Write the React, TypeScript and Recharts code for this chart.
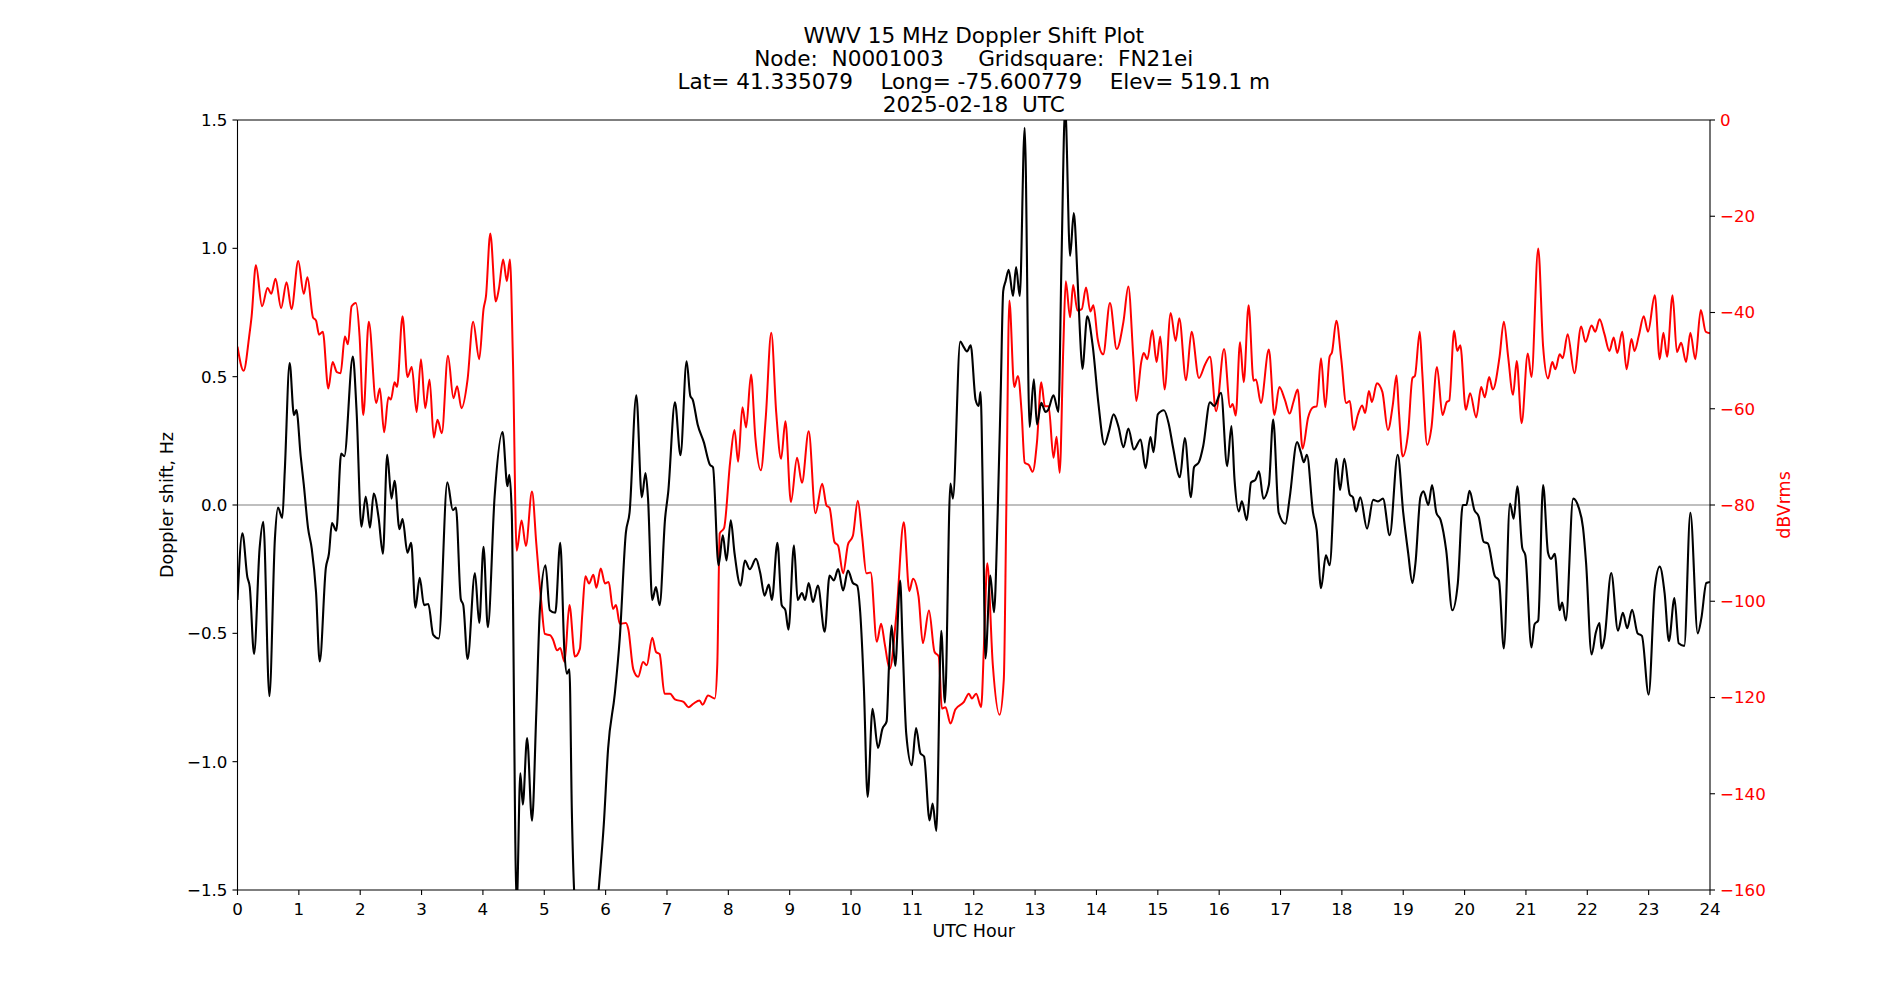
import React from 'react';
import { LineChart, Line, XAxis, YAxis, ReferenceLine } from 'recharts';

// ---- Doppler shift (black, left axis, Hz) ----
const blackHours = [
  0, 0.08, 0.16, 0.2, 0.27, 0.36, 0.42, 0.52, 0.61, 0.66, 0.73, 0.77, 0.85, 0.92, 0.96,
  1.03, 1.08, 1.15, 1.21, 1.28, 1.34, 1.44, 1.49, 1.54, 1.61, 1.69, 1.74, 1.88, 1.94,
  2.02, 2.09, 2.16, 2.22, 2.3, 2.37, 2.44, 2.51, 2.56, 2.64, 2.69, 2.77, 2.83, 2.9, 2.97,
  3.04, 3.11, 3.19, 3.28, 3.42, 3.51, 3.56, 3.64, 3.68, 3.75, 3.87, 3.94,
  4.01, 4.08, 4.19, 4.32, 4.4, 4.43, 4.47, 4.55, 4.61, 4.65, 4.72, 4.8, 4.87, 4.93,
  5.02, 5.09, 5.18, 5.26, 5.33, 5.37, 5.41, 5.45, 5.49, 5.7, 5.89, 5.97,
  6.04, 6.15, 6.23, 6.33, 6.39, 6.5, 6.59, 6.65, 6.69, 6.76, 6.82, 6.88, 6.97,
  7.02, 7.13, 7.22, 7.32, 7.38, 7.42, 7.5, 7.6, 7.7, 7.75, 7.84, 7.91, 7.97,
  8.04, 8.1, 8.2, 8.27, 8.35, 8.45, 8.52, 8.59, 8.66, 8.71, 8.8, 8.87, 8.93, 8.98,
  9.07, 9.13, 9.2, 9.25, 9.31, 9.38, 9.46, 9.57, 9.65, 9.72, 9.79, 9.87, 9.95,
  10.03, 10.1, 10.15, 10.21, 10.27, 10.35, 10.44, 10.51, 10.58, 10.62, 10.66, 10.72, 10.8, 10.84, 10.9, 10.99,
  11.06, 11.13, 11.19, 11.28, 11.33, 11.39, 11.47, 11.53, 11.62, 11.66, 11.78, 11.83, 11.89, 11.95,
  12.03, 12.08, 12.11, 12.15, 12.19, 12.27, 12.33, 12.39, 12.44, 12.48, 12.52, 12.57, 12.64, 12.69, 12.75, 12.83, 12.91, 12.98,
  13.03, 13.1, 13.17, 13.21, 13.3, 13.38, 13.43, 13.49, 13.57, 13.63, 13.69, 13.73, 13.77, 13.85, 13.94,
  14.03, 14.13, 14.2, 14.28, 14.36, 14.44, 14.52, 14.61, 14.72, 14.8, 14.88, 14.93,
  15.0, 15.1, 15.18, 15.25, 15.36, 15.44, 15.54, 15.59, 15.67, 15.74, 15.85, 15.92,
  16.03, 16.13, 16.2, 16.25, 16.32, 16.37, 16.45, 16.52, 16.59, 16.65, 16.72, 16.81, 16.88, 16.97,
  17.08, 17.15, 17.27, 17.33, 17.38, 17.43, 17.53, 17.59, 17.66, 17.74, 17.8, 17.91, 17.97,
  18.04, 18.13, 18.18, 18.23, 18.3, 18.41, 18.51, 18.59, 18.67, 18.78, 18.91,
  19.0, 19.08, 19.15, 19.2, 19.28, 19.33, 19.41, 19.47, 19.54, 19.61, 19.7, 19.8, 19.89, 19.97,
  20.03, 20.08, 20.16, 20.23, 20.31, 20.38, 20.49, 20.56, 20.64, 20.74, 20.8, 20.86, 20.94, 20.99,
  21.09, 21.14, 21.2, 21.28, 21.36, 21.41, 21.47, 21.55, 21.59, 21.65, 21.77, 21.86, 21.93, 21.98,
  22.07, 22.14, 22.2, 22.23, 22.28, 22.39, 22.5, 22.58, 22.65, 22.73, 22.82, 22.89,
  23.0, 23.1, 23.18, 23.26, 23.33, 23.42, 23.49, 23.58, 23.68, 23.8, 23.86, 23.94, 24.0,
];
const blackValues = [
  -0.37, -0.11, -0.28, -0.32, -0.58, -0.17, -0.065, -0.745, -0.13, -0.01, -0.05, 0.13, 0.553, 0.35, 0.37,
  0.19, 0.08, -0.09, -0.17, -0.34, -0.61, -0.245, -0.19, -0.07, -0.1, 0.2, 0.19, 0.578, 0.37,
  -0.085, 0.033, -0.088, 0.045, -0.05, -0.19, 0.196, 0.025, 0.094, -0.094, -0.055, -0.186, -0.147, -0.4, -0.284,
  -0.39, -0.386, -0.506, -0.52, 0.088, -0.02, -0.01, -0.367, -0.39, -0.6, -0.265, -0.46,
  -0.163, -0.476, 0.03, 0.284, 0.073, 0.118, -0.03, -1.56, -1.045, -1.167, -0.908, -1.23, -0.81, -0.4,
  -0.235, -0.41, -0.42, -0.147, -0.578, -0.657, -0.64, -1.2, -1.52, -2.0, -1.49, -1.245,
  -0.95, -0.735, -0.52, -0.108, -0.03, 0.427, 0.03, 0.124, 0.03, -0.37, -0.32, -0.39, -0.05,
  0.05, 0.4, 0.194, 0.56, 0.425, 0.41, 0.314, 0.245, 0.157, 0.147, -0.235, -0.118, -0.216,
  -0.06, -0.186, -0.314, -0.216, -0.25, -0.21, -0.265, -0.353, -0.31, -0.37, -0.147, -0.39, -0.41, -0.486,
  -0.157, -0.37, -0.343, -0.37, -0.304, -0.378, -0.314, -0.494, -0.275, -0.294, -0.25, -0.333, -0.255,
  -0.304, -0.314, -0.42, -0.716, -1.137, -0.794, -0.947, -0.873, -0.843, -0.618, -0.47, -0.627, -0.294, -0.539, -0.892, -1.014,
  -0.869, -0.967, -0.98, -1.229, -1.163, -1.27, -0.49, -0.77, 0.084, 0.025, 0.637, 0.618, 0.598, 0.622,
  0.41, 0.386, 0.44, 0.01, -0.598, -0.275, -0.418, -0.03, 0.44, 0.833, 0.873, 0.916, 0.814, 0.927, 0.814, 1.47, 0.304, 0.49,
  0.314, 0.398, 0.363, 0.37, 0.427, 0.363, 0.95, 1.55, 0.97, 1.137, 0.892, 0.676, 0.53, 0.735, 0.618,
  0.4, 0.235, 0.284, 0.353, 0.304, 0.225, 0.298, 0.216, 0.255, 0.143, 0.265, 0.206,
  0.353, 0.369, 0.314, 0.222, 0.108, 0.261, 0.03, 0.147, 0.167, 0.23, 0.4, 0.386,
  0.437, 0.151, 0.308, 0.1, -0.025, 0.014, -0.059, 0.088, 0.098, 0.131, 0.025, 0.078, 0.333, -0.03,
  -0.073, 0.03, 0.245, 0.206, 0.167, 0.196, -0.03, -0.098, -0.324, -0.196, -0.235, 0.18, 0.059,
  0.18, 0.04, 0.03, -0.025, 0.03, -0.092, 0.02, 0.014, 0.025, -0.118, 0.196,
  -0.03, -0.186, -0.304, -0.225, 0.03, 0.053, 0.0, 0.078, -0.03, -0.059, -0.176, -0.41, -0.304, 0.0,
  0.0, 0.055, -0.02, -0.045, -0.143, -0.15, -0.275, -0.294, -0.559, 0.006, -0.053, 0.073, -0.167, -0.196,
  -0.555, -0.465, -0.45, 0.078, -0.186, -0.21, -0.19, -0.41, -0.38, -0.45, 0.025, -0.01, -0.088, -0.225,
  -0.582, -0.496, -0.46, -0.559, -0.52, -0.265, -0.49, -0.42, -0.48, -0.408, -0.5, -0.51,
  -0.739, -0.324, -0.24, -0.343, -0.53, -0.363, -0.539, -0.549, -0.03, -0.5, -0.44, -0.304, -0.3,
];

// ---- Signal level (red, right axis, dBVrms) ----
const redHours = [
  0, 0.1, 0.19, 0.23, 0.3, 0.4, 0.49, 0.55, 0.62, 0.71, 0.8, 0.88, 0.99,
  1.08, 1.14, 1.23, 1.28, 1.33, 1.39, 1.48, 1.55, 1.62, 1.68, 1.75, 1.8, 1.86, 1.93, 1.99,
  2.05, 2.14, 2.26, 2.32, 2.39, 2.46, 2.5, 2.56, 2.6, 2.69, 2.77, 2.84, 2.92, 2.99,
  3.06, 3.13, 3.2, 3.26, 3.33, 3.43, 3.52, 3.58, 3.65, 3.75, 3.84, 3.94,
  4.01, 4.05, 4.12, 4.21, 4.26, 4.33, 4.39, 4.44, 4.49, 4.55, 4.63, 4.7, 4.8, 4.87, 4.95,
  5.01, 5.1, 5.14, 5.21, 5.26, 5.33, 5.41, 5.5, 5.58, 5.62, 5.67, 5.73, 5.8, 5.85, 5.92, 5.99,
  6.05, 6.12, 6.17, 6.23, 6.33, 6.37, 6.45, 6.53, 6.61, 6.67, 6.76, 6.82, 6.88, 6.96,
  7.05, 7.13, 7.27, 7.35, 7.43, 7.53, 7.58, 7.67, 7.78, 7.82, 7.86, 7.93,
  8.03, 8.1, 8.16, 8.23, 8.29, 8.37, 8.44, 8.53, 8.61, 8.7, 8.78, 8.86, 8.93,
  9.02, 9.12, 9.2, 9.31, 9.42, 9.53, 9.6, 9.65, 9.73, 9.79, 9.87, 9.95,
  10.03, 10.11, 10.18, 10.25, 10.32, 10.42, 10.49, 10.55, 10.63, 10.74, 10.86, 10.95,
  11.01, 11.1, 11.17, 11.27, 11.36, 11.43, 11.48, 11.54, 11.62, 11.7, 11.84, 11.92, 11.97,
  12.04, 12.12, 12.17, 12.22, 12.31, 12.42, 12.49, 12.53, 12.58, 12.66, 12.72, 12.78, 12.83, 12.9, 12.96,
  13.03, 13.1, 13.16, 13.22, 13.3, 13.35, 13.4, 13.46, 13.5, 13.57, 13.62, 13.69, 13.76, 13.83, 13.9, 13.95,
  14.02, 14.11, 14.22, 14.33, 14.44, 14.52, 14.6, 14.65, 14.73, 14.77, 14.83, 14.91, 14.98,
  15.04, 15.11, 15.21, 15.29, 15.35, 15.46, 15.55, 15.67, 15.77, 15.85, 15.95,
  16.08, 16.18, 16.22, 16.27, 16.34, 16.4, 16.48, 16.56, 16.6, 16.68, 16.81, 16.9, 16.98,
  17.07, 17.15, 17.21, 17.28, 17.36, 17.45, 17.53, 17.59, 17.66, 17.73, 17.8, 17.84, 17.91, 17.99,
  18.07, 18.13, 18.19, 18.26, 18.33, 18.38, 18.44, 18.49, 18.57, 18.66, 18.75, 18.83, 18.89, 18.93, 18.99,
  19.08, 19.15, 19.19, 19.27, 19.31, 19.39, 19.46, 19.55, 19.64, 19.71, 19.75, 19.83, 19.88, 19.93,
  20.02, 20.09, 20.19, 20.27, 20.33, 20.4, 20.46, 20.57, 20.64, 20.71, 20.79, 20.85, 20.93,
  21.03, 21.09, 21.2, 21.28, 21.36, 21.43, 21.48, 21.55, 21.6, 21.68, 21.79, 21.9, 21.97,
  22.07, 22.13, 22.2, 22.28, 22.36, 22.43, 22.49, 22.57, 22.64, 22.72, 22.77, 22.84, 22.92, 22.99,
  23.1, 23.18, 23.24, 23.3, 23.39, 23.46, 23.53, 23.61, 23.68, 23.76, 23.85, 23.93, 24.0,
];
const redValues = [
  -47.1, -52.1, -45.0, -40.8, -30.2, -38.7, -34.9, -36.1, -33.0, -39.1, -33.7, -39.3, -29.3,
  -36.1, -32.7, -41.0, -41.7, -44.6, -44.0, -55.8, -50.3, -52.4, -52.6, -45.0, -46.6, -38.7, -38.0, -45.0,
  -61.3, -41.9, -58.8, -55.8, -64.9, -57.6, -58.1, -54.5, -55.5, -40.8, -53.4, -51.3, -60.7, -49.7,
  -59.9, -53.9, -66.0, -62.3, -65.1, -49.0, -57.8, -55.3, -59.9, -53.9, -41.9, -49.7,
  -39.3, -36.6, -23.6, -37.7, -35.1, -29.0, -33.5, -29.0, -50.3, -89.5, -83.2, -88.5, -77.2, -88.0, -100,
  -106.8, -107.1, -107.9, -110.2, -109.7, -112.6, -100.8, -111.5, -109.9, -102.6, -94.8, -96.3, -94.5, -97.2, -93.2, -96.3,
  -96.0, -101.6, -100.8, -104.7, -104.5, -105.8, -114.1, -115.7, -112.6, -113.3, -107.6, -110.5, -111.0, -119.2,
  -119.2, -120.4, -120.9, -122.0, -121.3, -120.6, -121.5, -119.6, -120.2, -113.1, -85.9, -84.8,
  -71.0, -64.4, -71.0, -59.7, -63.9, -52.9, -66.0, -72.8, -61.8, -44.2, -60.7, -70.4, -62.6,
  -79.4, -70.2, -75.4, -64.7, -81.7, -75.6, -80.1, -80.6, -87.7, -88.5, -94.2, -88.2,
  -86.4, -79.1, -86.4, -94.2, -94.0, -108.4, -104.7, -108.9, -114.1, -102.6, -83.6, -97.9,
  -95.3, -99.0, -108.7, -101.9, -110.5, -111.5, -122.3, -122.0, -125.4, -122.5, -120.9, -119.2, -120.2,
  -119.2, -122.0, -107.9, -92.1, -113.1, -123.6, -116.2, -81.7, -37.5, -55.5, -53.2, -60.7, -71.2, -71.7, -73.1,
  -67.0, -54.5, -59.5, -59.5, -70.2, -65.8, -73.3, -47.1, -33.5, -41.0, -34.3, -39.6, -39.3, -34.8, -39.8, -38.5,
  -45.5, -48.7, -38.0, -47.6, -41.9, -34.6, -49.2, -58.4, -50.3, -48.4, -49.7, -43.7, -50.3,
  -45.0, -56.0, -40.1, -45.9, -41.2, -54.1, -44.0, -53.6, -50.8, -49.2, -60.5,
  -47.6, -59.7, -59.0, -61.4, -46.2, -54.5, -38.5, -54.2, -53.9, -58.8, -47.7, -61.3, -55.5,
  -58.1, -61.0, -58.6, -56.0, -68.3, -61.8, -59.7, -59.5, -49.5, -59.7, -49.2, -48.2, -41.7, -49.7,
  -58.8, -58.4, -64.4, -61.3, -59.3, -60.9, -56.3, -58.6, -54.7, -56.5, -64.4, -59.2, -53.1, -60.7, -69.9,
  -64.9, -53.6, -53.2, -44.0, -52.4, -67.5, -63.9, -51.3, -61.3, -58.6, -58.3, -43.8, -48.0, -46.8,
  -60.2, -56.8, -61.8, -55.5, -57.6, -53.4, -56.0, -49.2, -41.9, -49.2, -57.1, -50.1, -63.0,
  -48.5, -53.4, -26.7, -47.1, -53.7, -50.3, -51.8, -48.7, -49.5, -44.5, -52.6, -42.9, -46.1,
  -42.7, -44.0, -41.4, -44.5, -48.0, -45.2, -48.4, -44.0, -51.8, -45.5, -48.0, -44.8, -40.8, -44.0,
  -36.4, -49.7, -44.2, -49.2, -36.4, -48.2, -46.3, -50.3, -44.2, -49.7, -39.5, -44.0, -44.3,
];

const hourTicks = [0, 1, 2, 3, 4, 5, 6, 7, 8, 9, 10, 11, 12, 13, 14, 15, 16, 17, 18, 19, 20, 21, 22, 23, 24];
const dopplerTicks = [-1.5, -1.0, -0.5, 0.0, 0.5, 1.0, 1.5];
const levelTicks = [-160, -140, -120, -100, -80, -60, -40, -20, 0];

const titleLines = [
  'WWV 15 MHz Doppler Shift Plot',
  'Node:  N0001003     Gridsquare:  FN21ei',
  'Lat= 41.335079    Long= -75.600779    Elev= 519.1 m',
  '2025-02-18  UTC',
];
const xLabel = 'UTC Hour';
const leftLabel = 'Doppler shift, Hz';
const rightLabel = 'dBVrms';

const dopplerData = blackHours.map((h, i) => ({ h, v: blackValues[i] }));
const levelData = redHours.map((h, i) => ({ h, v: redValues[i] }));

const FONT = 'DejaVu Sans';
const TICK_FS = 16.7;
const LABEL_FS = 17.5;
const TITLE_FS = 21.6;
const minus = (s: string) => s.replace('-', '\u2212');

const W = 1900;
const H = 1000;
const PL = 237.5;
const PR = 1710;
const PT = 120;
const PB = 890;

export default function App() {
  const cx = (PL + PR) / 2;
  const cy = (PT + PB) / 2;
  return (
    <div style={{ position: 'absolute', left: 0, top: 0, width: W, height: H, background: '#fff' }}>
      <LineChart
        width={W}
        height={H}
        margin={{ top: PT, right: W - PR - 60, bottom: H - PB - 30, left: PL - 60 }}
      >
        <XAxis
          dataKey="h"
          type="number"
          domain={[0, 24]}
          ticks={hourTicks}
          interval={0}
          allowDataOverflow
          height={30}
          stroke="#000"
          tickSize={5}
          tickMargin={8}
          tick={{ fill: '#000', fontSize: TICK_FS, fontFamily: FONT }}
          axisLine={{ stroke: '#000', strokeWidth: 1.1 }}
          tickLine={{ stroke: '#000', strokeWidth: 1.1 }}
        />
        <YAxis
          yAxisId="left"
          type="number"
          domain={[-1.5, 1.5]}
          ticks={dopplerTicks}
          interval={0}
          allowDataOverflow
          width={60}
          tickSize={5}
          tickMargin={5}
          tickFormatter={(v: number) => minus(v.toFixed(1))}
          tick={{ fill: '#000', fontSize: TICK_FS, fontFamily: FONT }}
          axisLine={{ stroke: '#000', strokeWidth: 1.1 }}
          tickLine={{ stroke: '#000', strokeWidth: 1.1 }}
        />
        <YAxis
          yAxisId="right"
          orientation="right"
          type="number"
          domain={[-160, 0]}
          ticks={levelTicks}
          interval={0}
          allowDataOverflow
          width={60}
          tickSize={5}
          tickMargin={5}
          tickFormatter={(v: number) => minus(String(v))}
          tick={{ fill: '#ff0000', fontSize: TICK_FS, fontFamily: FONT }}
          axisLine={{ stroke: '#000', strokeWidth: 1.1 }}
          tickLine={{ stroke: '#000', strokeWidth: 1.1 }}
        />
        <ReferenceLine yAxisId="left" y={0} stroke="#808080" strokeWidth={1.1} />
        <ReferenceLine yAxisId="left" y={1.5} stroke="#000" strokeWidth={1.1} />
        <Line
          data={levelData}
          dataKey="v"
          yAxisId="right"
          type="monotone"
          stroke="#ff0000"
          strokeWidth={2}
          dot={false}
          activeDot={false}
          isAnimationActive={false}
        />
        <Line
          data={dopplerData}
          dataKey="v"
          yAxisId="left"
          type="monotone"
          stroke="#000"
          strokeWidth={2.1}
          dot={false}
          activeDot={false}
          isAnimationActive={false}
        />
      </LineChart>
      <svg
        width={W}
        height={H}
        style={{ position: 'absolute', left: 0, top: 0, pointerEvents: 'none' }}
        fontFamily={FONT}
      >
        {titleLines.map((t, i) => (
          <text key={i} x={cx} y={42.5 + i * 23.2} textAnchor="middle" fontSize={TITLE_FS} fill="#000" style={{ whiteSpace: 'pre' }}>
            {t}
          </text>
        ))}
        <text x={cx} y={936.5} textAnchor="middle" fontSize={LABEL_FS} fill="#000">
          {xLabel}
        </text>
        <text
          x={173}
          y={cy}
          textAnchor="middle"
          fontSize={LABEL_FS}
          fill="#000"
          transform={`rotate(-90 173 ${cy})`}
        >
          {leftLabel}
        </text>
        <text
          x={1789.5}
          y={cy}
          textAnchor="middle"
          fontSize={LABEL_FS}
          fill="#ff0000"
          transform={`rotate(-90 1789.5 ${cy})`}
        >
          {rightLabel}
        </text>
      </svg>
    </div>
  );
}
